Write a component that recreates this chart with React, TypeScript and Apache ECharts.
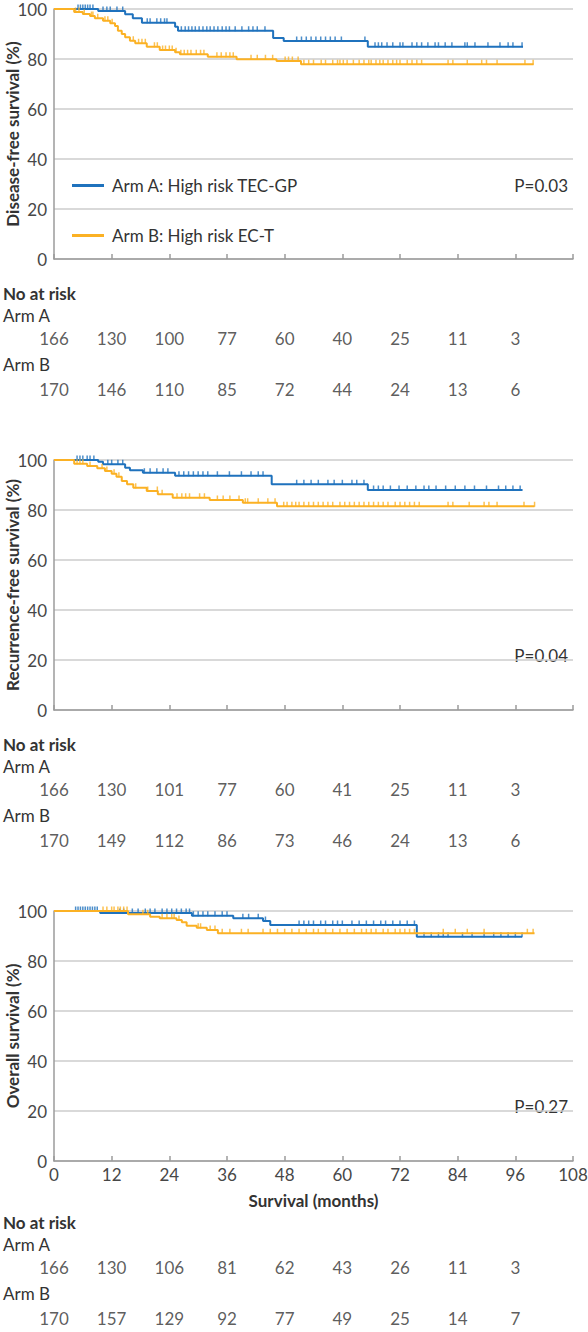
import React, { useEffect, useRef } from "react";
import * as echarts from "echarts";

const BLUE = "#1f72bd";
const ORANGE = "#fbb124";
const FONT = "Lato, 'Open Sans', sans-serif";
const FS = 17;
const NAME_A = "Arm A: High risk TEC-GP";
const NAME_B = "Arm B: High risk EC-T";

// x ticks (months)
const xTicks = [0, 12, 24, 36, 48, 60, 72, 84, 96, 108];
const riskTimes = [0, 12, 24, 36, 48, 60, 72, 84, 96];

// Disease-free survival
const dfsATimes = [0, 9.2, 14.8, 16.4, 18.3, 25.2, 25.8, 45.6, 47.8, 65.3];
const dfsASurv = [100, 99.2, 97.9, 96.3, 94.5, 92.9, 91.3, 88.4, 87.2, 84.9];
const dfsAEnd = 97.6;
const dfsBTimes = [0, 4.2, 6.0, 7.5, 8.5, 10.2, 11.7, 12.7, 13.3, 14.1, 14.8, 15.8, 16.9, 19.3, 22.0, 25.2, 26.2, 32.0, 38.0, 46.3, 51.4];
const dfsBSurv = [100, 98.8, 98.0, 97.2, 96.3, 95.3, 94.3, 93.2, 91.3, 90.0, 88.7, 87.3, 86.3, 84.9, 83.6, 82.7, 81.9, 80.9, 79.9, 79.2, 77.9];
const dfsBEnd = 99.8;
const dfsACens = [5, 5.5, 6, 6.5, 7, 7.5, 8.1, 10.2, 11, 11.7, 13.1, 14.3, 19.4, 20, 21.4, 22.2, 23, 23.5, 26.5, 27.3, 28, 28.7, 29.4, 30.2, 31, 31.8, 32.5, 33.3, 34.1, 35, 35.8, 36.5, 37.7, 39.1, 40.5, 41.4, 42.3, 43.9, 50.5, 51.5, 52.5, 53.5, 54.5, 55.5, 56.5, 57.5, 58.5, 59.8, 64.7, 66.8, 67.5, 68.2, 69.3, 70.5, 72, 72.6, 74.5, 75.5, 76.5, 77.8, 79.3, 80, 81.4, 82.8, 85.5, 86, 87.6, 90.3, 92.8, 94.5, 95.5, 97.4];
const dfsBCens = [4.5, 5.2, 6.3, 7.8, 8.1, 9.1, 10.6, 11.2, 12.1, 16.5, 17.6, 18.3, 19, 20.9, 21.5, 22.6, 23.2, 24, 24.6, 25.4, 26.4, 27.1, 27.8, 28.5, 29.6, 30.5, 31.2, 33.9, 34.8, 35.8, 36.6, 37.3, 41, 42.3, 44, 45.5, 48.1, 48.8, 49.6, 50.8, 52, 53, 54, 55.6, 56.5, 58, 59, 59.5, 60.2, 61, 62.3, 63.5, 64.5, 65.5, 66, 67, 67.8, 68.5, 69.5, 70.5, 71.3, 72, 73.5, 74.5, 75.5, 76.5, 82, 83, 86, 89, 90, 92.2, 98, 99.7];
const dfsRiskA = [166, 130, 100, 77, 60, 40, 25, 11, 3];
const dfsRiskB = [170, 146, 110, 85, 72, 44, 24, 13, 6];

// Recurrence-free survival
const rfsATimes = [0, 9.2, 10.2, 14.8, 15.8, 18.5, 25.2, 45.3, 65.3];
const rfsASurv = [100, 99.3, 98.3, 96.9, 95.9, 94.9, 93.7, 90.3, 88.0];
const rfsAEnd = 97.5;
const rfsBTimes = [0, 4.2, 6.9, 9.0, 10.6, 12.0, 13.0, 14.1, 15.2, 16.5, 19.3, 21.6, 24.7, 32.4, 39.3, 46.4];
const rfsBSurv = [100, 98.5, 97.6, 96.7, 95.6, 94.5, 93.3, 91.6, 90.3, 88.9, 87.6, 86.3, 84.9, 84.0, 82.9, 81.5];
const rfsBEnd = 100;
const rfsACens = [4.8, 5.4, 6, 6.9, 7.5, 8.3, 11.2, 12, 13.3, 14.3, 18.8, 20, 21.4, 22.7, 23.7, 26, 27, 28, 29, 30, 31, 32, 34, 36.5, 39, 41, 42.5, 43.5, 50.5, 52, 53.5, 55, 57, 58.3, 60, 62, 63, 64.5, 66.5, 67.5, 68.5, 70, 71.8, 73.5, 75.3, 77, 78, 79.5, 81.5, 83.5, 85.5, 87.5, 90, 92.5, 94, 95.5, 97];
const rfsBCens = [4.8, 5.4, 6, 7.5, 10, 11, 12.5, 13.5, 17, 19.5, 21.5, 22.5, 25.6, 26.6, 27.4, 28.2, 30.3, 31.3, 34, 35.2, 36.6, 38.5, 39.8, 40.3, 42.5, 44.5, 46, 47.8, 48.5, 49.5, 50.3, 51, 52, 53, 54, 55, 56, 57, 58, 59.5, 60.5, 61.5, 62.5, 63.5, 64.5, 65.5, 66.5, 67.5, 68.5, 69.5, 71, 72, 73, 74, 75, 76, 82, 83, 86.4, 89.5, 90.5, 92.2, 97.8, 100];
const rfsRiskA = [166, 130, 101, 77, 60, 41, 25, 11, 3];
const rfsRiskB = [170, 149, 112, 86, 73, 46, 24, 13, 6];

// Overall survival
const osATimes = [0, 9.6, 28.7, 37.3, 43.5, 45.0, 75.5];
const osASurv = [100, 99.2, 98.1, 97.1, 96.0, 94.4, 89.7];
const osAEnd = 97.4;
const osBTimes = [0, 15.4, 20.0, 22.0, 25.5, 26.6, 27.6, 29.7, 31.8, 34.1];
const osBSurv = [100, 98.7, 97.7, 97.1, 96.4, 95.5, 94.1, 93.3, 92.4, 91.1];
const osBEnd = 100;
const osACens = [4.5, 5, 5.5, 6, 6.5, 7, 7.5, 8, 8.5, 9, 13.7, 14.5, 16.3, 17.5, 19, 20, 21, 22.5, 23.5, 24.5, 25.5, 26.5, 27.5, 28.2, 29, 30, 31, 32, 33.5, 35, 36, 39.3, 40.5, 42.5, 44, 51, 52, 53, 54, 55.5, 56.5, 58, 59, 60, 62, 63.5, 65, 66.5, 68, 69, 70.5, 72, 73.5, 75, 77, 78.5, 80, 81, 82, 85, 87, 89.5, 91.5, 93, 94.5, 96, 97.4];
const osBCens = [10.2, 11, 12, 12.5, 13.3, 13.8, 14.5, 15.2, 18.5, 19.5, 22.5, 23.5, 24.5, 25, 26, 30, 30.5, 32.5, 33.5, 35, 36.6, 39, 40.4, 43.5, 45, 46.5, 48, 49.5, 51, 52.5, 54, 55, 56.5, 58, 59.5, 61, 62.5, 64, 65, 66, 67, 68.5, 69.5, 71, 72, 73, 74, 75, 81, 83.5, 86, 89.5, 98.5, 99.7];
const osRiskA = [166, 130, 106, 81, 62, 43, 26, 11, 3];
const osRiskB = [170, 157, 129, 92, 77, 49, 25, 14, 7];

const yLabels = ["Disease-free survival (%)", "Recurrence-free survival (%)", "Overall survival (%)"];
const pValues = ["P=0.03", "P=0.04", "P=0.27"];

function stepData(times: number[], surv: number[], end: number) {
  const d = times.map((t, i) => [t, surv[i]]);
  d.push([end, surv[surv.length - 1]]);
  return d;
}
function survAt(times: number[], surv: number[], t: number) {
  let v = surv[0];
  for (let i = 0; i < times.length; i++) if (times[i] <= t) v = surv[i];
  return v;
}

const PLOT_LEFT = 54;
const PLOT_W = 519;
const PLOT_H = 250;
const plotTops = [9, 460, 911];
const riskRows = [
  [338, 389],
  [789, 840],
  [1267, 1318],
];
const riskHeads = [
  [293, 315, 364],
  [744, 766, 815],
  [1222, 1244, 1293],
];
const pY = [185, 655, 1106];
const yNameX = 12;

export default function App() {
  const ref = useRef<HTMLDivElement>(null);
  useEffect(() => {
    if (!ref.current) return;
    const chart = echarts.init(ref.current, undefined, { renderer: "svg" });

    const panels = [
      { aT: dfsATimes, aS: dfsASurv, aE: dfsAEnd, bT: dfsBTimes, bS: dfsBSurv, bE: dfsBEnd, aC: dfsACens, bC: dfsBCens, rA: dfsRiskA, rB: dfsRiskB },
      { aT: rfsATimes, aS: rfsASurv, aE: rfsAEnd, bT: rfsBTimes, bS: rfsBSurv, bE: rfsBEnd, aC: rfsACens, bC: rfsBCens, rA: rfsRiskA, rB: rfsRiskB },
      { aT: osATimes, aS: osASurv, aE: osAEnd, bT: osBTimes, bS: osBSurv, bE: osBEnd, aC: osACens, bC: osBCens, rA: osRiskA, rB: osRiskB },
    ];

    const grid: any[] = [];
    const xAxis: any[] = [];
    const yAxis: any[] = [];
    const series: any[] = [];
    const graphic: any[] = [];
    const axisColor = "#9b9b9b";
    const labelColor = "#474747";
    const textColor = "#333333";

    panels.forEach((p, i) => {
      const pg = 2 * i; // plot grid / axis index
      const rg = 2 * i + 1; // risk grid / axis index
      const last = i === 2;

      grid.push({ left: PLOT_LEFT, top: plotTops[i], width: PLOT_W, height: PLOT_H, containLabel: false, outerBoundsMode: "none" });
      xAxis.push({
        gridIndex: pg,
        type: "value",
        min: 0,
        max: 108,
        interval: 12,
        axisLine: { show: true, lineStyle: { color: axisColor, width: 1.5 } },
        axisTick: { show: true, inside: true, length: 5, lineStyle: { color: axisColor, width: 1.5 } },
        axisLabel: { show: last, fontSize: FS, color: labelColor, margin: 5, fontFamily: FONT },
        splitLine: { show: false },
        name: last ? "Survival (months)" : "",
        nameLocation: "middle",
        nameGap: 31,
        nameTextStyle: { fontSize: FS, fontWeight: "bold", color: textColor, fontFamily: FONT },
      });
      yAxis.push({
        gridIndex: pg,
        type: "value",
        min: 0,
        max: 100,
        interval: 20,
        axisLine: { show: true, lineStyle: { color: axisColor, width: 1.5 } },
        axisTick: { show: false },
        axisLabel: { fontSize: FS, color: labelColor, margin: 7, fontFamily: FONT },
        splitLine: { show: true, lineStyle: { color: "#cdcdcd", width: 1.5 } },
      });

      // y-axis title, rotated, centred on the plot
      graphic.push({
        type: "text",
        x: yNameX,
        y: plotTops[i] + PLOT_H / 2,
        rotation: Math.PI / 2,
        style: { text: yLabels[i], font: `bold ${FS}px ${FONT}`, fill: textColor, align: "center", verticalAlign: "middle" },
      });

      // risk table grid
      grid.push({ left: PLOT_LEFT, top: riskRows[i][0], width: PLOT_W, height: riskRows[i][1] - riskRows[i][0], containLabel: false, outerBoundsMode: "none" });
      xAxis.push({ gridIndex: rg, type: "value", min: 0, max: 108, show: false });
      yAxis.push({ gridIndex: rg, type: "value", min: 0, max: 1, show: false });

      series.push({
        name: NAME_A,
        type: "line",
        step: "end",
        xAxisIndex: pg,
        yAxisIndex: pg,
        showSymbol: false,
        symbol: "none",
        color: BLUE,
        lineStyle: { color: BLUE, width: 2 },
        data: stepData(p.aT, p.aS, p.aE),
        z: 3,
      });
      series.push({
        name: NAME_B,
        type: "line",
        step: "end",
        xAxisIndex: pg,
        yAxisIndex: pg,
        showSymbol: false,
        symbol: "none",
        color: ORANGE,
        lineStyle: { color: ORANGE, width: 2 },
        data: stepData(p.bT, p.bS, p.bE),
        z: 4,
      });
      series.push({
        name: NAME_A + " censored",
        type: "scatter",
        xAxisIndex: pg,
        yAxisIndex: pg,
        symbol: "rect",
        symbolSize: [1.5, 5],
        symbolOffset: [0, -2],
        itemStyle: { color: BLUE },
        data: p.aC.map((t) => [t, survAt(p.aT, p.aS, t)]),
        z: 3,
        silent: true,
      });
      series.push({
        name: NAME_B + " censored",
        type: "scatter",
        xAxisIndex: pg,
        yAxisIndex: pg,
        symbol: "rect",
        symbolSize: [1.5, 5],
        symbolOffset: [0, -2],
        itemStyle: { color: ORANGE },
        data: p.bC.map((t) => [t, survAt(p.bT, p.bS, t)]),
        z: 4,
        silent: true,
      });

      const riskSeries = (vals: number[], row: number, nm: string) => ({
        name: nm,
        type: "scatter",
        xAxisIndex: rg,
        yAxisIndex: rg,
        symbol: "circle",
        symbolSize: 1,
        itemStyle: { color: "transparent" },
        silent: true,
        label: {
          show: true,
          position: "inside",
          formatter: (q: any) => String(q.value[2]),
          fontSize: FS,
          color: textColor,
          fontFamily: FONT,
        },
        data: riskTimes.map((t, k) => [t, row, vals[k]]),
      });
      series.push(riskSeries(p.rA, 1, "No at risk Arm A " + i));
      series.push(riskSeries(p.rB, 0, "No at risk Arm B " + i));

      const h = riskHeads[i];
      graphic.push({ type: "text", x: 3, y: h[0], style: { text: "No at risk", font: `bold ${FS}px ${FONT}`, fill: textColor, verticalAlign: "middle" } });
      graphic.push({ type: "text", x: 3, y: h[1], style: { text: "Arm A", font: `${FS}px ${FONT}`, fill: textColor, verticalAlign: "middle" } });
      graphic.push({ type: "text", x: 3, y: h[2], style: { text: "Arm B", font: `${FS}px ${FONT}`, fill: textColor, verticalAlign: "middle" } });
      graphic.push({ type: "text", x: 568, y: pY[i], style: { text: pValues[i], font: `${FS}px ${FONT}`, fill: textColor, align: "right", verticalAlign: "middle" } });
    });

    chart.setOption({
      animation: false,
      backgroundColor: "#ffffff",
      textStyle: { fontFamily: FONT },
      grid,
      xAxis,
      yAxis,
      series,
      graphic,
      legend: {
        data: [NAME_A, NAME_B],
        orient: "vertical",
        left: 67,
        top: 172,
        itemGap: 33,
        itemWidth: 32,
        itemHeight: 3,
        icon: "rect",
        selectedMode: false,
        textStyle: { fontSize: FS, color: textColor, fontFamily: FONT, padding: [0, 0, 0, 3] },
      },
    });
    return () => chart.dispose();
  }, []);
  return <div ref={ref} style={{ position: "absolute", left: 0, top: 0, width: 588, height: 1332 }} />;
}
